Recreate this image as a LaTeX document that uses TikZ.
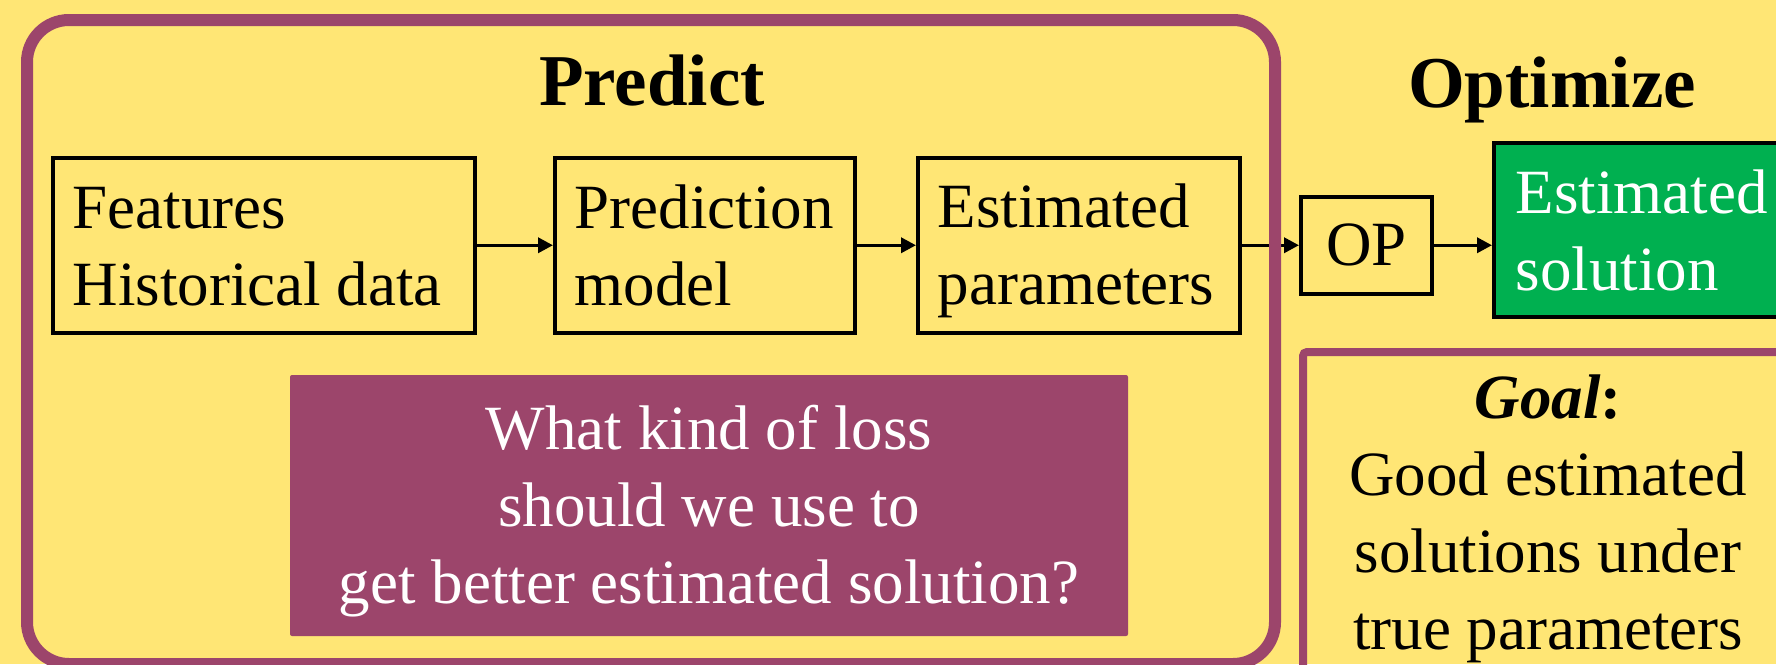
\documentclass[tikz,border=0pt]{standalone}
\usepackage{fontspec}
\setmainfont{Liberation Serif}
\usetikzlibrary{arrows.meta}
\definecolor{bgyellow}{RGB}{255,230,117}
\definecolor{berry}{RGB}{156,69,107}
\definecolor{leaf}{RGB}{0,176,80}
% two-line label with fixed first-line height and last-line depth
\newcommand{\twolines}[2]{\rule{0pt}{54pt}#1\\#2\rule[-10pt]{0pt}{10pt}}
\begin{document}
\begin{tikzpicture}[x=1pt,y=-1pt,
  body/.style={font=\fontsize{63}{77}\selectfont},
  stage/.style={body, draw=black, line width=3.5pt, anchor=north west,
    inner xsep=20pt, inner ysep=0pt, align=flush left, minimum height=175pt},
  title/.style={font=\fontsize{73}{88}\selectfont\bfseries, anchor=base},
  arr/.style={line width=3.5pt, -{Triangle[length=15pt,width=15pt]}},
]
% canvas
\fill[bgyellow] (0,0) rectangle (1776,664);
\useasboundingbox (0,0) rectangle (1776,664);

% goal panel (runs off the right and bottom edges)
\node[draw=berry, line width=8pt, rounded corners=4pt, anchor=north west,
      minimum width=498pt, minimum height=400pt, inner sep=0pt] (goal) at (1299,348) {};
\node[body, align=center, anchor=north, inner sep=0pt] (goaltxt) at (1548,363)
  {\rule{0pt}{55pt}\textbf{\textit{Goal}:}\\Good estimated\\solutions under\\true parameters};

% section titles
\node[title] (ptitle) at (652,105) {Predict};
\node[title] (otitle) at (1552,107) {Optimize};

% pipeline stages
\node[stage, text width=382pt] (feat) at (51,156) {\twolines{Features}{Historical data}};
\node[stage, text width=260pt] (pred) at (553,156) {\twolines{Prediction}{model}};
\node[stage, text width=282pt] (est) at (916,156) {\twolines{Estimated}{parameters}};
\node[body, draw=black, line width=3.5pt, anchor=north west, minimum width=131pt,
      minimum height=97pt, inner sep=0pt] (op) at (1299,195) {OP};
\node[stage, fill=leaf, text=white, text width=300pt, inner xsep=22pt,
      minimum height=174pt] (sol) at (1492,141) {\twolines{Estimated}{solution}};

% question box
\node[body, fill=berry, text=white, align=center, minimum width=838pt,
      minimum height=261pt, inner sep=0pt, rounded corners=2pt] (ask) at (709,505.5)
  {\rule{0pt}{55pt}What kind of loss\\should we use to\\get better estimated solution?\rule[-10pt]{0pt}{10pt}};

% connectors
\draw[arr] (feat.east) -- (pred.west);
\draw[arr] (pred.east) -- (est.west);
\draw[arr] (est.east) -- (op.west);
\draw[arr] (op.east) -- (op.east -| sol.west);

% predict frame, drawn last so it lies over the crossing connector
\node[draw=berry, line width=12pt, rounded corners=42pt, anchor=north west,
      minimum width=1248pt, minimum height=644pt, inner sep=0pt] (predict) at (21,14) {};
\end{tikzpicture}
\end{document}
